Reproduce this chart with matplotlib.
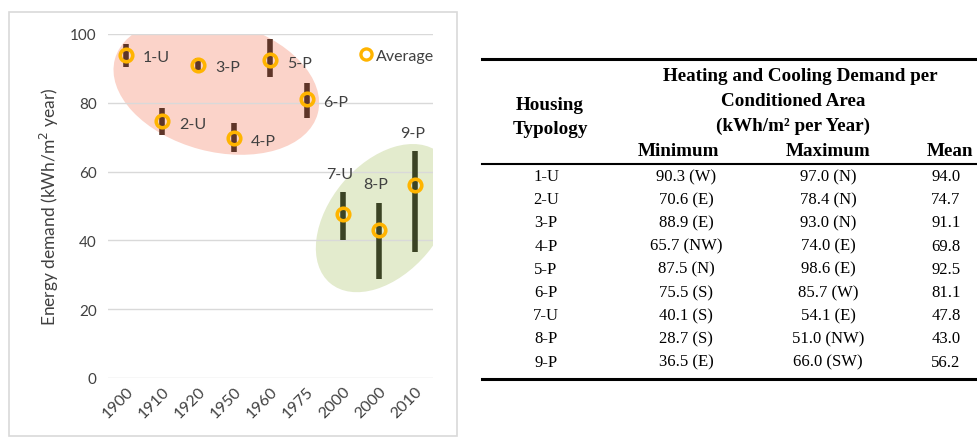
import matplotlib.pyplot as plt
import matplotlib.transforms as mtransforms
from matplotlib.patches import Ellipse, Rectangle
from matplotlib.lines import Line2D
import numpy as np

# chart data
typologies = ["1-U", "2-U", "3-P", "4-P", "5-P", "6-P", "7-U", "8-P", "9-P"]
years = ["1900", "1910", "1920", "1950", "1960", "1975", "2000", "2000", "2010"]
min_vals = [90.3, 70.6, 88.9, 65.7, 87.5, 75.5, 40.1, 28.7, 36.5]
max_vals = [97.0, 78.4, 93.0, 74.0, 98.6, 85.7, 54.1, 51.0, 66.0]
mean_vals = [94.0, 74.7, 91.1, 69.8, 92.5, 81.1, 47.8, 43.0, 56.2]
min_orient = ["W", "E", "E", "NW", "N", "S", "S", "S", "E"]
max_orient = ["N", "N", "N", "E", "E", "W", "E", "NW", "SW"]
old_group = [0, 1, 2, 3, 4, 5]
new_group = [6, 7, 8]

fig = plt.figure(figsize=(9.77, 4.39), dpi=100)
plt.rcParams["font.family"] = ["Lato", "DejaVu Sans"]

# light frame around the chart panel
fig.patches.append(Rectangle((0.009, 0.005), 0.459, 0.965, transform=fig.transFigure,
                             fill=False, edgecolor="#d9d9d9", lw=1.2))

ax = fig.add_axes([0.1105, 0.1367, 0.3327, 0.7836])
x = np.arange(len(typologies))

# group ellipses: centred on the group's data, size/offset in inches
def group_ellipse(idx, w, h, angle, dx, dy, color):
    cx = np.mean([x[i] for i in idx])
    cy = (min([min_vals[i] for i in idx]) + max([max_vals[i] for i in idx])) / 2
    trans = fig.dpi_scale_trans + mtransforms.ScaledTranslation(cx, cy, ax.transData)
    ax.add_patch(Ellipse((dx, dy), w, h, angle=angle, transform=trans,
                         facecolor=color, edgecolor="none", zorder=0))

group_ellipse(old_group, 2.10, 1.30, -15, 0.0, 0.09, "#fbd3c9")
group_ellipse(new_group, 1.70, 1.10, 50, 0.06, -0.03, "#e3ebcd")

for i in range(len(typologies)):
    bar_color = "#5e3528" if i in old_group else "#3b4324"
    ax.plot([x[i], x[i]], [min_vals[i], max_vals[i]], color=bar_color, lw=4,
            solid_capstyle="butt", zorder=3)
    ax.plot(x[i], mean_vals[i], "o", ms=9, mfc="none", mec="#ffb400", mew=2.6, zorder=4)
    if i in old_group:
        ax.annotate(typologies[i], (x[i], mean_vals[i]), xytext=(12, -2),
                    textcoords="offset points", ha="left", va="center",
                    fontsize=11.5, color="#404040")
    else:
        ax.annotate(typologies[i], (x[i], max_vals[i]), xytext=(-2, 13),
                    textcoords="offset points", ha="center", va="center",
                    fontsize=11.5, color="#404040")

ax.set_xlim(-0.5, len(typologies) - 0.5)
ax.set_ylim(0, 100)
ax.set_yticks([0, 20, 40, 60, 80, 100])
ax.set_xticks(x)
ax.set_xticklabels(years, rotation=45, ha="right", rotation_mode="anchor")
ax.tick_params(length=0, labelsize=11, labelcolor="#404040", pad=8)
ax.tick_params(axis="x", labelsize=11.5, pad=4)
ax.grid(axis="y", color="#d9d9d9", lw=1)
ax.set_axisbelow(True)
for s in ax.spines.values():
    s.set_visible(False)
ax.set_ylabel("Energy demand (kWh/m$^2$ year)", fontsize=12.5, color="#404040", labelpad=7)

handle = Line2D([], [], marker="o", ls="none", ms=8, mfc="none", mec="#ffb400", mew=2.4)
fig.legend([handle], ["Average"], loc="upper right", bbox_to_anchor=(0.452, 0.905),
           frameon=False, fontsize=11.5, handletextpad=0.1, borderpad=0,
           handlelength=1.0, labelcolor="#404040")

# table on the right
serif = ["Liberation Serif", "DejaVu Serif"]
W, H = 977.0, 439.0
def fx(px):
    return px / W
def fy(py):
    return 1 - py / H

col_x = [550, 686, 828, 946]
fig.add_artist(Line2D([fx(482), fx(977)], [fy(60), fy(60)], color="black", lw=2.2))
fig.add_artist(Line2D([fx(482), fx(977)], [fy(165), fy(165)], color="black", lw=1.5))
fig.add_artist(Line2D([fx(482), fx(977)], [fy(380), fy(380)], color="black", lw=2.2))

hdr = dict(family=serif, fontsize=13.8, fontweight="bold", ha="center", va="center")
fig.text(fx(col_x[0]), fy(106), "Housing", **hdr)
fig.text(fx(col_x[0]), fy(130), "Typology", **hdr)
fig.text(fx(800), fy(77), "Heating and Cooling Demand per", **hdr)
fig.text(fx(793), fy(101), "Conditioned Area", **hdr)
fig.text(fx(793), fy(126), "(kWh/m\u00b2 per Year)", **hdr)
fig.text(fx(col_x[1] - 8), fy(151), "Minimum", **hdr)
fig.text(fx(col_x[2]), fy(151), "Maximum", **hdr)
fig.text(fx(col_x[3] + 4), fy(151), "Mean", **hdr)

cell = dict(family=serif, fontsize=12, ha="center", va="center")
for r in range(len(typologies)):
    y = fy(177 + r * 23.2)
    fig.text(fx(col_x[0] - 4), y, typologies[r], **cell)
    fig.text(fx(col_x[1]), y, f"{min_vals[r]:.1f} ({min_orient[r]})", **cell)
    fig.text(fx(col_x[2]), y, f"{max_vals[r]:.1f} ({max_orient[r]})", **cell)
    fig.text(fx(col_x[3]), y, f"{mean_vals[r]:.1f}", **cell)

fig.savefig("out.png", dpi=100)
